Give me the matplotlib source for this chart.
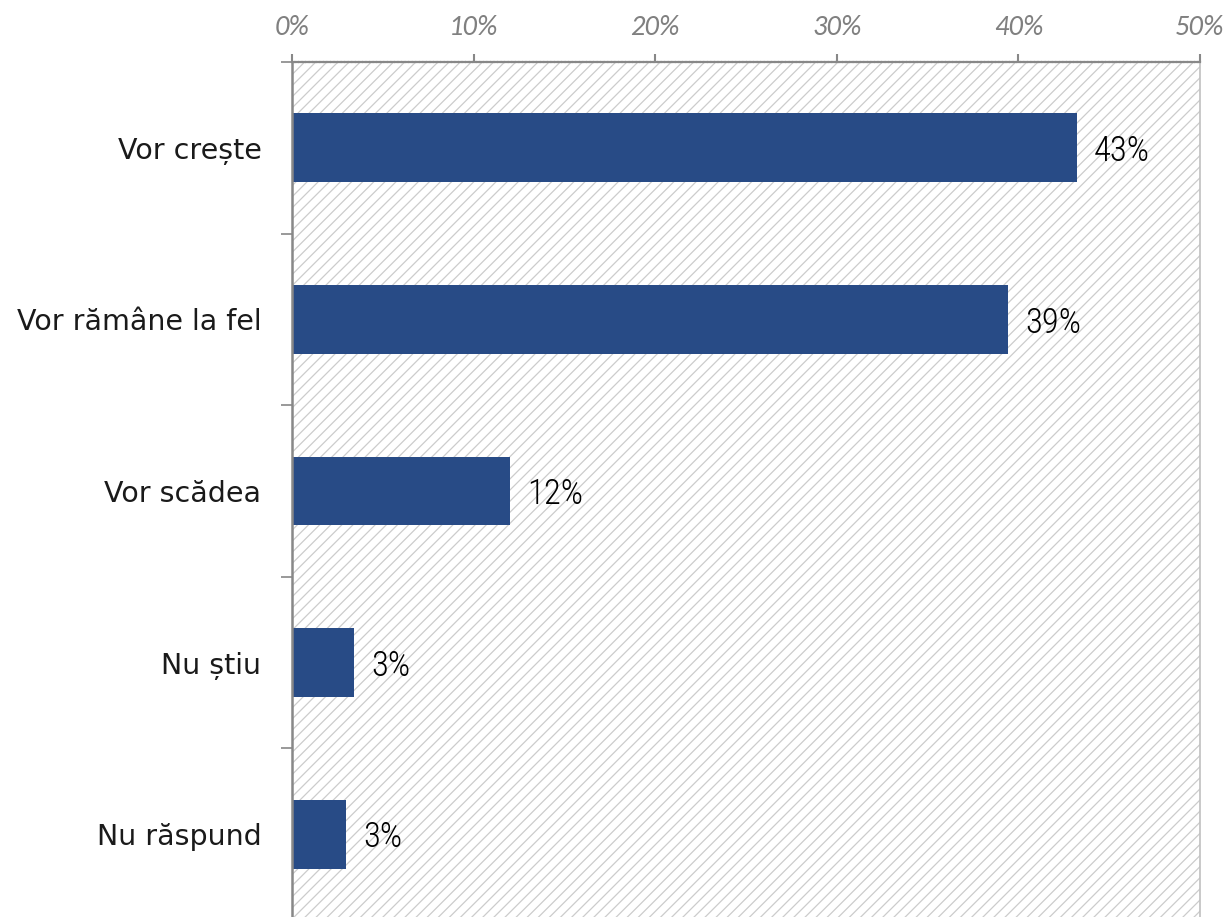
import matplotlib
matplotlib.use("Agg")
import matplotlib.pyplot as plt
from matplotlib.patches import Rectangle

categories = ["Vor crește", "Vor rămâne la fel", "Vor scădea", "Nu știu", "Nu răspund"]
values = [43.2, 39.4, 12.0, 3.4, 3.0]
labels = ["43%", "39%", "12%", "3%", "3%"]
xticks = [0, 10, 20, 30, 40, 50]
xticklabels = ["0%", "10%", "20%", "30%", "40%", "50%"]

plt.rcParams['hatch.linewidth'] = 0.9
plt.rcParams['hatch.color'] = "#cccccc"

W, H = 1230, 917
fig = plt.figure(figsize=(W / 100, H / 100), dpi=100)
left, right, top, bottom = 292, 1200, 62, 920
ax = fig.add_axes([left / W, 1 - bottom / H, (right - left) / W, (bottom - top) / H])

ax.set_xlim(0, 50)
ax.set_ylim(len(categories) - 0.5, -0.5)

# hatched background
bg = Rectangle((0, 0), 1, 1, transform=ax.transAxes, facecolor="white",
               edgecolor="#cccccc", hatch="///", linewidth=0, zorder=0)
ax.add_patch(bg)

ypos = list(range(len(categories)))
ax.barh(ypos, values, height=0.4, color="#284b86", zorder=2)

for y, v, lab in zip(ypos, values, labels):
    ax.text(v + 0.95, y + 0.02, lab, va="center", ha="left", fontsize=25,
            family=["Roboto Condensed", "DejaVu Sans"], fontweight="light", color="black")

ax.set_yticks([i - 0.5 for i in range(len(categories))])
ax.set_yticklabels([])
ax.set_yticks(ypos, minor=True)
ax.set_yticklabels(categories, minor=True, fontsize=20.5, family="DejaVu Sans", color="#1a1a1a")
ax.tick_params(axis="y", which="minor", length=0, pad=22)
ax.tick_params(axis="y", which="major", length=8, color="#888888", width=1.2)

ax.xaxis.tick_top()
ax.set_xticks(xticks)
ax.set_xticklabels(xticklabels, fontsize=20.5, style="italic", color="#808080", family="Carlito")
ax.tick_params(axis="x", length=6, color="#888888", width=1.5, pad=10, direction="out")
for t in ax.xaxis.get_ticklines():
    t.set_linestyle((0, (1, 1)))

ax.spines["top"].set_color("#888888")
ax.spines["top"].set_linestyle((0, (1, 0.6)))
ax.spines["top"].set_linewidth(1.6)
ax.spines["left"].set_color("#888888")
ax.spines["left"].set_linewidth(1.8)
ax.spines["right"].set_color("#c0c0c0")
ax.spines["right"].set_linewidth(1.2)
ax.spines["bottom"].set_visible(False)

fig.savefig("out.png", dpi=100)
